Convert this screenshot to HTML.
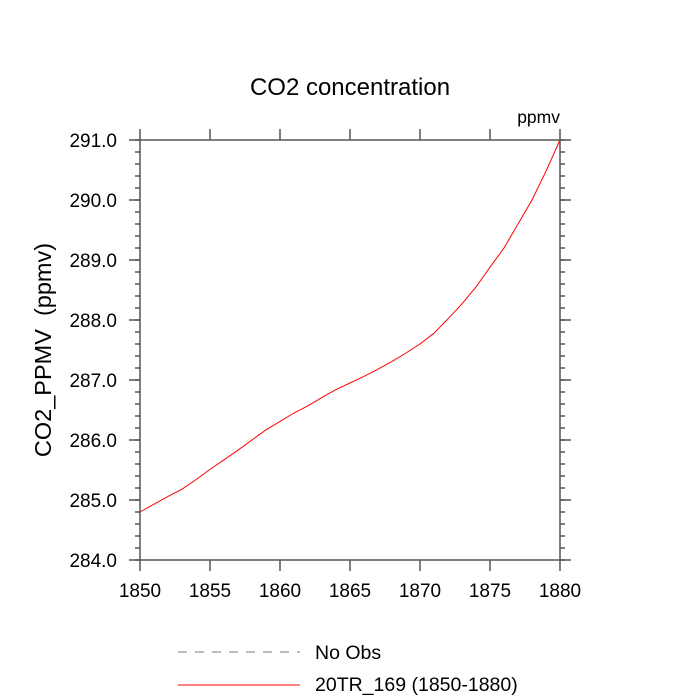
<!DOCTYPE html>
<html><head><meta charset="utf-8"><style>body{margin:0;background:#fff}svg{display:block}text{font-family:"Liberation Sans",sans-serif;fill:#000}</style></head>
<body>
<svg id="chart" width="700" height="700">
<text x="350" y="95" font-size="24" text-anchor="middle">CO2 concentration</text>
<text x="560" y="123" font-size="17.5" text-anchor="end">ppmv</text>
<text transform="translate(51,350) rotate(-90)" font-size="23.5" text-anchor="middle" xml:space="preserve" style="white-space:pre">CO2_PPMV  (ppmv)</text>
<g id="axes"></g>
<path id="line" fill="none" stroke="#ff0000" stroke-width="1"/>
<rect x="140" y="140" width="420" height="420" fill="none" stroke="#555" stroke-width="1.5"/>
<g>
<line x1="178" y1="652" x2="300" y2="652" stroke="#777" stroke-dasharray="9,8"/>
<text x="315" y="659" font-size="19.5">No Obs</text>
<line x1="178" y1="685" x2="300" y2="685" stroke="#ff0000"/>
<text x="315" y="691" font-size="19.5">20TR_169 (1850-1880)</text>
</g>
</svg>
<script>
const years=[1850,1851,1852,1853,1854,1855,1856,1857,1858,1859,1860,1861,1862,1863,1864,1865,1866,1867,1868,1869,1870,1871,1872,1873,1874,1875,1876,1877,1878,1879,1880];
const co2=[284.8,284.93,285.06,285.18,285.34,285.51,285.67,285.83,286.0,286.17,286.31,286.45,286.57,286.71,286.84,286.95,287.06,287.18,287.31,287.45,287.6,287.78,288.02,288.27,288.55,288.88,289.2,289.6,290.0,290.48,291.0];
const xTicks=[1850,1855,1860,1865,1870,1875,1880];
const yTicks=[284,285,286,287,288,289,290,291];
const X=v=>140+(v-1850)/30*420, Y=v=>560-(v-284)/7*420;
const ns='http://www.w3.org/2000/svg', ax=document.getElementById('axes');
function ln(x1,y1,x2,y2,n){const l=document.createElementNS(ns,'line');l.setAttribute('x1',x1);l.setAttribute('y1',y1);l.setAttribute('x2',x2);l.setAttribute('y2',y2);l.setAttribute('stroke','#555');l.setAttribute('stroke-width','1.5');


ax.appendChild(l);}
function tx(x,y,s,a,n){const t=document.createElementNS(ns,'text');t.setAttribute('x',x);t.setAttribute('y',y);t.setAttribute('font-size','19');t.setAttribute('text-anchor',a);t.textContent=s;


ax.appendChild(t);}
xTicks.forEach(v=>{const x=X(v);ln(x,560,x,571,'x-tick');ln(x,140,x,129,'x-tick-top');tx(x,597,v,'middle','x-tick-label');});
yTicks.forEach(v=>{const y=Y(v);ln(140,y,129,y,'y-tick');ln(560,y,571,y,'y-tick-right');tx(117,y+7,v.toFixed(1),'end','y-tick-label');});
for(let v=284;v<291;v+=0.2){const y=Y(v);ln(140,y,135,y,'y-minor-tick');ln(560,y,565,y,'y-minor-tick-right');}
document.getElementById('line').setAttribute('d',years.map((y,i)=>(i?'L':'M')+X(y)+','+Y(co2[i])).join(''));
</script>
</body></html>
